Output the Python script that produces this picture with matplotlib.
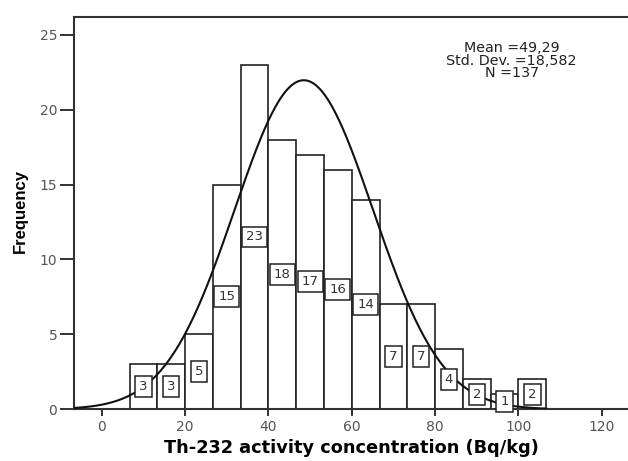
import numpy as np
import matplotlib
matplotlib.use('Agg')
import matplotlib.pyplot as plt

# histogram of Th-232 activity concentration
bin_left = [6.67, 13.33, 20.0, 26.67, 33.33, 40.0, 46.67, 53.33, 60.0,
            66.67, 73.33, 80.0, 86.67, 93.33, 100.0]
bin_width = 6.67
counts = [3, 3, 5, 15, 23, 18, 17, 16, 14, 7, 7, 4, 2, 1, 2]

stats_text = "Mean =49,29\nStd. Dev. =18,582\nN =137"
n_total = 137
# normal curve as drawn in the picture
curve_mu = 48.5
curve_sd = 16.6

fig = plt.figure(figsize=(6.28, 4.61), dpi=100)
ax = fig.add_axes([74/628, (461-409.3)/461, (628-74)/628, (409.3-16.7)/461])

ax.bar(bin_left, counts, width=bin_width, align='edge', color='white',
       edgecolor='#222222', linewidth=1.2, zorder=2)

for x0, c in zip(bin_left, counts):
    ax.text(x0 + bin_width/2, c/2, str(c), ha='center', va='center',
            fontsize=9.5, color='#333333', zorder=4,
            bbox=dict(boxstyle='square,pad=0.3', fc='white', ec='#222222', lw=1.1))

xs = np.linspace(-6.65, 106.7, 400)
ys = n_total*bin_width*np.exp(-(xs-curve_mu)**2/(2*curve_sd**2))/(curve_sd*np.sqrt(2*np.pi))
ax.plot(xs, ys, color='#111111', lw=1.5, zorder=3)

ax.set_xlim(-6.65, 126.3)
ax.set_ylim(0, 26.2)
ax.set_xticks([0, 20, 40, 60, 80, 100, 120])
ax.set_yticks([0, 5, 10, 15, 20, 25])
ax.tick_params(axis='x', length=5, width=1.3, colors='#222222', labelcolor='#555555', labelsize=10, pad=3)
ax.tick_params(axis='y', length=10, width=1.3, colors='#222222', labelcolor='#555555', labelsize=10, pad=2)
ax.spines['right'].set_visible(False)
for s in ['left', 'top', 'bottom']:
    ax.spines[s].set_linewidth(1.5)
    ax.spines[s].set_color('#333333')

ax.text(0.79, 0.888, stats_text, transform=ax.transAxes, ha='center', va='center',
        fontsize=10.3, linespacing=0.86, color='#222222')

fig.text(20/628, 1-211/461, 'Frequency', rotation=90, ha='center', va='center',
         fontsize=12, fontweight='bold', family=['Liberation Sans Narrow', 'Liberation Sans'])
fig.text(351/628, 1-448/461, 'Th-232 activity concentration (Bq/kg)', ha='center', va='center',
         fontsize=12.8, fontweight='bold', family='DejaVu Sans')

fig.savefig('out.png', dpi=100)
